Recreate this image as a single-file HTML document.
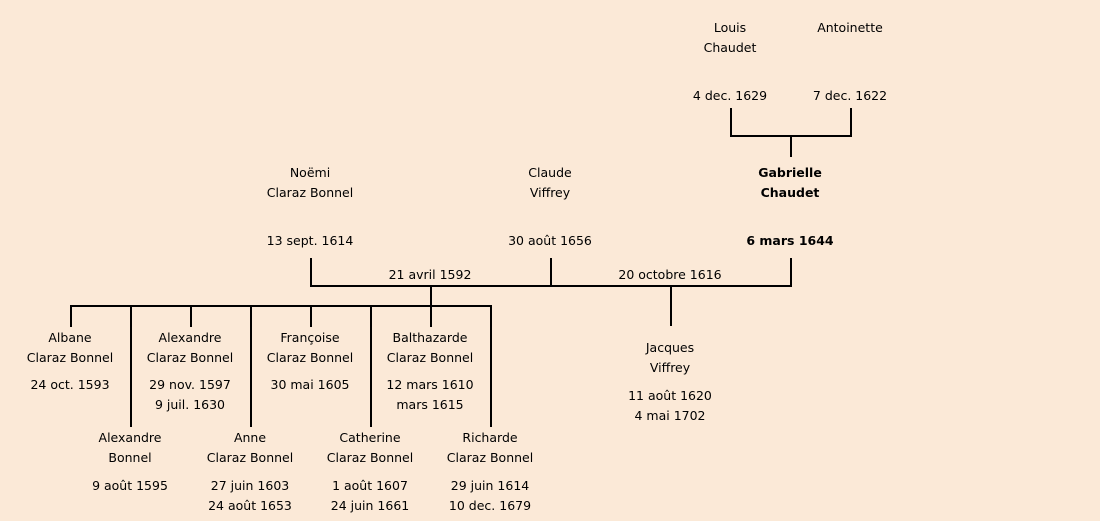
<!DOCTYPE html>
<html><head><meta charset="utf-8"><style>
body{margin:0;width:1100px;height:521px;background:#fbe9d7;position:relative;overflow:hidden;font-family:"DejaVu Sans","Liberation Sans",sans-serif;font-size:12.5px;color:#000}
.t{position:absolute;width:160px;margin-left:-80px;text-align:center;line-height:20px;white-space:nowrap}
.b{font-weight:bold}
.h,.v{position:absolute;background:#000}
.h{height:2px}.v{width:2px}
</style></head><body>
<div class="h" style="left:730px;top:135px;width:122px"></div>
<div class="v" style="left:730px;top:108px;height:29px"></div>
<div class="v" style="left:850px;top:108px;height:29px"></div>
<div class="v" style="left:790px;top:136px;height:21px"></div>
<div class="h" style="left:310px;top:285px;width:482px"></div>
<div class="v" style="left:310px;top:258px;height:28px"></div>
<div class="v" style="left:550px;top:258px;height:28px"></div>
<div class="v" style="left:790px;top:258px;height:28px"></div>
<div class="v" style="left:430px;top:286px;height:20px"></div>
<div class="v" style="left:670px;top:286px;height:40px"></div>
<div class="h" style="left:70px;top:305px;width:422px"></div>
<div class="v" style="left:70px;top:306px;height:21px"></div>
<div class="v" style="left:190px;top:306px;height:21px"></div>
<div class="v" style="left:310px;top:306px;height:21px"></div>
<div class="v" style="left:430px;top:306px;height:21px"></div>
<div class="v" style="left:130px;top:306px;height:121px"></div>
<div class="v" style="left:250px;top:306px;height:121px"></div>
<div class="v" style="left:370px;top:306px;height:121px"></div>
<div class="v" style="left:490px;top:306px;height:121px"></div>

<div class="t" style="left:730px;top:18px">Louis<br>Chaudet</div>
<div class="t" style="left:730px;top:86px">4 dec. 1629</div>
<div class="t" style="left:850px;top:18px">Antoinette</div>
<div class="t" style="left:850px;top:86px">7 dec. 1622</div>
<div class="t b" style="left:790px;top:163px">Gabrielle<br>Chaudet</div>
<div class="t b" style="left:790px;top:231px">6 mars 1644</div>
<div class="t" style="left:310px;top:163px">Noëmi<br>Claraz Bonnel</div>
<div class="t" style="left:310px;top:231px">13 sept. 1614</div>
<div class="t" style="left:550px;top:163px">Claude<br>Viffrey</div>
<div class="t" style="left:550px;top:231px">30 août 1656</div>
<div class="t" style="left:430px;top:265px">21 avril 1592</div>
<div class="t" style="left:670px;top:265px">20 octobre 1616</div>
<div class="t" style="left:670px;top:338px">Jacques<br>Viffrey</div>
<div class="t" style="left:670px;top:386px">11 août 1620<br>4 mai 1702</div>

<div class="t" style="left:70px;top:328px">Albane<br>Claraz Bonnel</div>
<div class="t" style="left:70px;top:375px">24 oct. 1593</div>
<div class="t" style="left:190px;top:328px">Alexandre<br>Claraz Bonnel</div>
<div class="t" style="left:190px;top:375px">29 nov. 1597<br>9 juil. 1630</div>
<div class="t" style="left:310px;top:328px">Françoise<br>Claraz Bonnel</div>
<div class="t" style="left:310px;top:375px">30 mai 1605</div>
<div class="t" style="left:430px;top:328px">Balthazarde<br>Claraz Bonnel</div>
<div class="t" style="left:430px;top:375px">12 mars 1610<br>mars 1615</div>

<div class="t" style="left:130px;top:428px">Alexandre<br>Bonnel</div>
<div class="t" style="left:130px;top:476px">9 août 1595</div>
<div class="t" style="left:250px;top:428px">Anne<br>Claraz Bonnel</div>
<div class="t" style="left:250px;top:476px">27 juin 1603<br>24 août 1653</div>
<div class="t" style="left:370px;top:428px">Catherine<br>Claraz Bonnel</div>
<div class="t" style="left:370px;top:476px">1 août 1607<br>24 juin 1661</div>
<div class="t" style="left:490px;top:428px">Richarde<br>Claraz Bonnel</div>
<div class="t" style="left:490px;top:476px">29 juin 1614<br>10 dec. 1679</div>
</body></html>
